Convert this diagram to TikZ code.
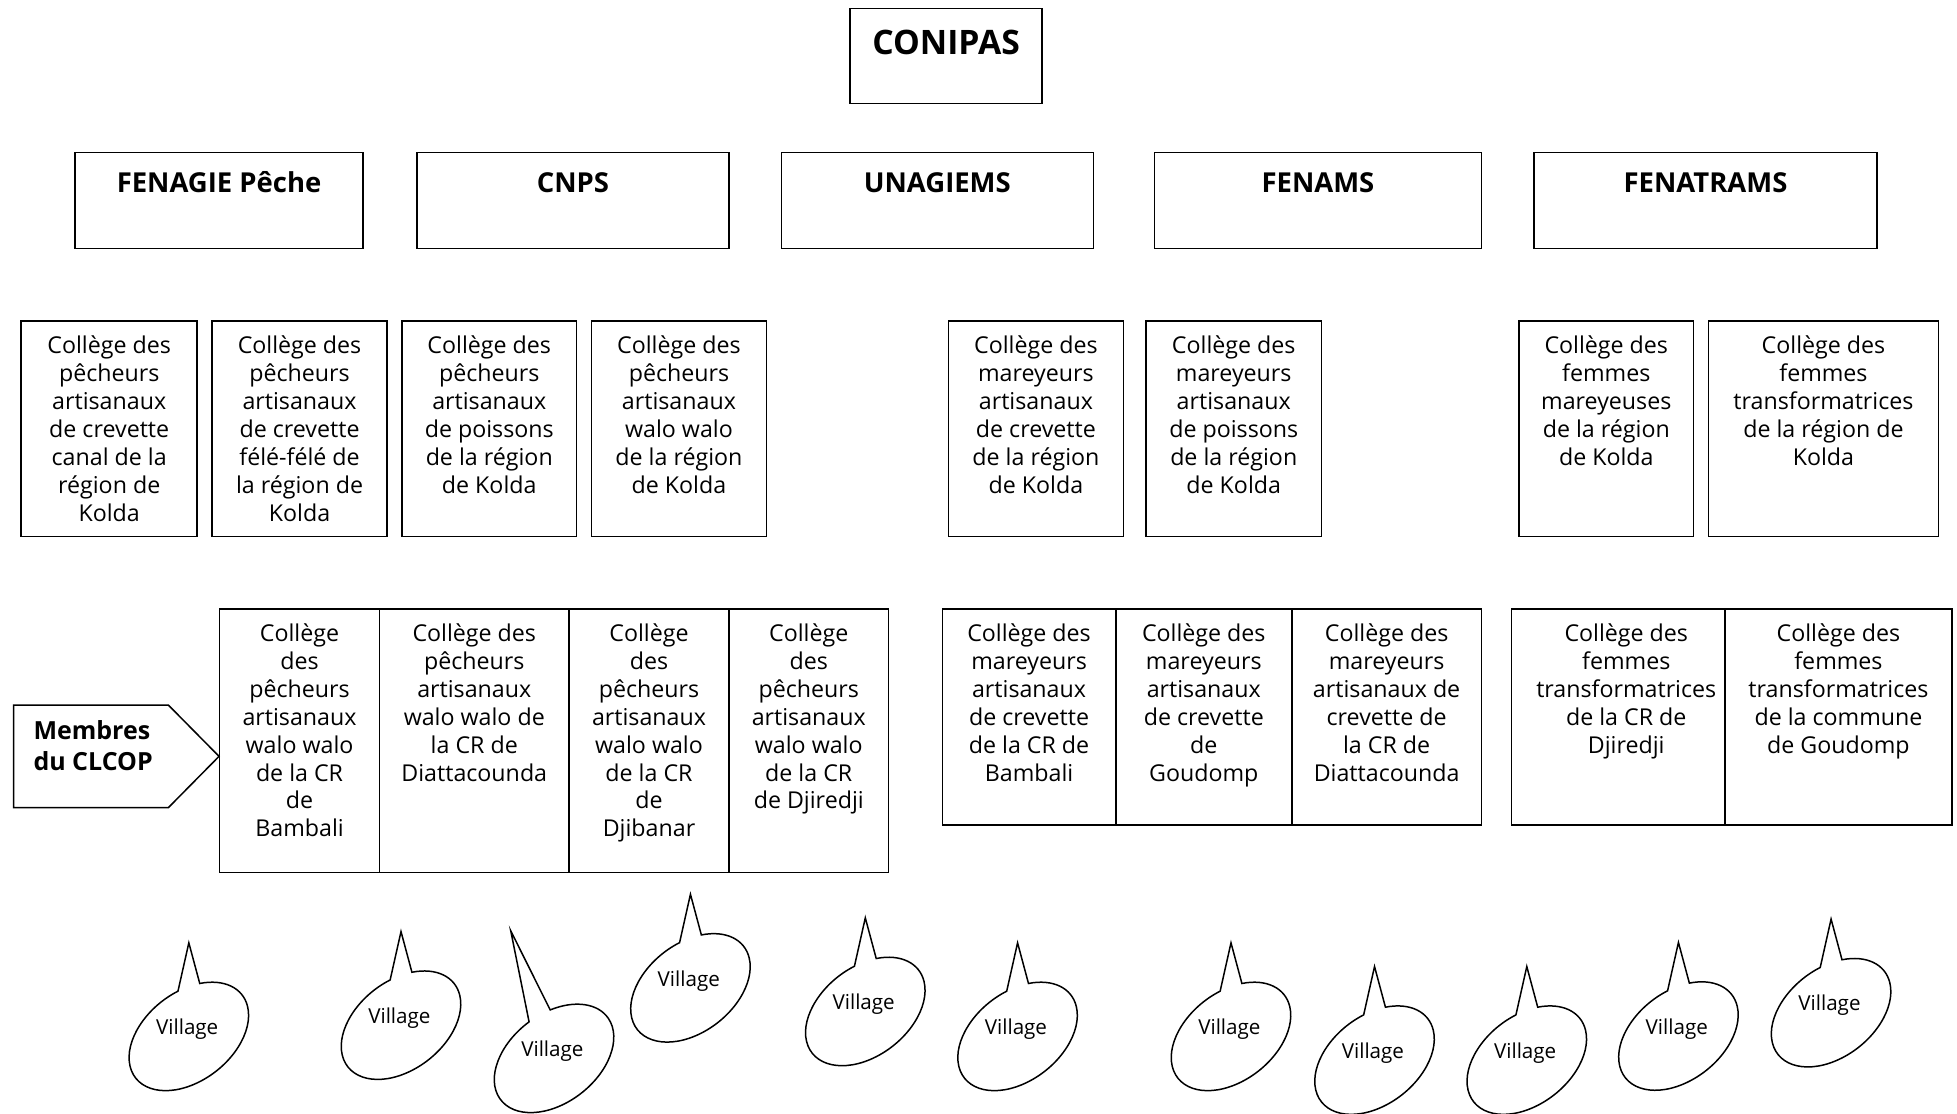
\documentclass[tikz,border=0pt]{standalone}
\usepackage{fontspec}
\setmainfont{Open Sans}
\newcommand\fl{\rule{0pt}{17pt}}
\newcommand\bx[5]{\node[box, minimum width={#4-#2}, minimum height={#5-#3}] (#1) at ({(#2+#4)/2},{(#3+#5)/2}) {};}
\newcommand\vill[6]{%
  \coordinate (#1tip) at (#4,#5);
  \begin{scope}[shift={(#2,#3)}, x=1pt, y=1pt, rotate=38]
    \pgfmathsetmacro\vca{#6+10.5}\pgfmathsetmacro\vcb{#6-10.5+360}
    \draw[callout] (\vca:54.1 and 35.4) arc[start angle=\vca, end angle=\vcb, x radius=54.1, y radius=35.4] -- (#1tip) -- cycle;
  \end{scope}
  \node[vtxt] (#1) at (#2-1.3,#3-1.5) {Village};
}
\tikzset{
  box/.style={draw, line width=1.2pt, inner sep=0pt},
  txt/.style={font=\fontsize{18.6}{22.35}\selectfont, align=center, inner sep=0pt, anchor=north},
  head/.style={font=\bfseries\fontsize{22}{26}\selectfont, inner sep=0pt, anchor=base},
  top/.style={font=\bfseries\fontsize{27}{32}\selectfont, inner sep=0pt, anchor=base},
  mtxt/.style={font=\bfseries\fontsize{20}{25}\selectfont, align=left, inner sep=0pt, anchor=north west},
  callout/.style={draw, line width=1.2pt, fill=white, line join=miter},
  vtxt/.style={font=\fontsize{16.5}{20}\selectfont, inner sep=0pt, anchor=base},
}
\begin{document}
\begin{tikzpicture}[x=1pt,y=-1pt]
\useasboundingbox[fill=white] (0,0) rectangle (1568,892);
% top
\bx{bconipas}{681}{7}{835}{83}
\node[top] (conipas) at (758,43.6) {CONIPAS};
% row 2
\bx{bfenagie}{60}{122}{291}{199}
\bx{bcnps}{334}{122}{584}{199}
\bx{bunagiems}{626}{122}{876}{199}
\bx{bfenams}{925}{122}{1187}{199}
\bx{bfenatrams}{1229}{122}{1504}{199}
\node[head] (fenagie) at (175.5,154) {FENAGIE Pêche};
\node[head] (cnps) at (459,154) {CNPS};
\node[head] (unagiems) at (751,154) {UNAGIEMS};
\node[head] (fenams) at (1056,154) {FENAMS};
\node[head] (fenatrams) at (1366.5,154) {FENATRAMS};
% row 3
\bx{b31}{17}{257}{158}{430}
\bx{b32}{170}{257}{310}{430}
\bx{b33}{322}{257}{462}{430}
\bx{b34}{474}{257}{614}{430}
\bx{b35}{760}{257}{900}{430}
\bx{b36}{918}{257}{1059}{430}
\bx{b37}{1217}{257}{1357}{430}
\bx{b38}{1369}{257}{1553}{430}
\node[txt] (t31) at (87.5,266.3) {\fl Collège des\\pêcheurs\\artisanaux\\de crevette\\canal de la\\région de\\Kolda};
\node[txt] (t32) at (240,266.3) {\fl Collège des\\pêcheurs\\artisanaux\\de crevette\\félé-félé de\\la région de\\Kolda};
\node[txt] (t33) at (392,266.3) {\fl Collège des\\pêcheurs\\artisanaux\\de poissons\\de la région\\de Kolda};
\node[txt] (t34) at (544,266.3) {\fl Collège des\\pêcheurs\\artisanaux\\walo walo\\de la région\\de Kolda};
\node[txt] (t35) at (830,266.3) {\fl Collège des\\mareyeurs\\artisanaux\\de crevette\\de la région\\de Kolda};
\node[txt] (t36) at (988.5,266.3) {\fl Collège des\\mareyeurs\\artisanaux\\de poissons\\de la région\\de Kolda};
\node[txt] (t37) at (1287,266.3) {\fl Collège des\\femmes\\mareyeuses\\de la région\\de Kolda};
\node[txt] (t38) at (1461,266.3) {\fl Collège des\\femmes\\transformatrices\\de la région de\\Kolda};
% membres
\draw[line width=1.2pt] (11,565) -- (135,565) -- (175.5,606) -- (135,647) -- (11,647) -- cycle;
\node[mtxt] (membres) at (26.7,575.3) {\fl Membres\\du CLCOP};
% row 4
\bx{b41}{176}{488}{304}{699}
\bx{b42}{304}{488}{456}{699}
\bx{b43}{456}{488}{584}{699}
\bx{b44}{584}{488}{712}{699}
\bx{b45}{755}{488}{894}{661}
\bx{b46}{894}{488}{1035}{661}
\bx{b47}{1035}{488}{1187}{661}
\bx{b48}{1211}{488}{1382}{661}
\bx{b49}{1382}{488}{1564}{661}
\node[txt] (t41) at (240,496.8) {\fl Collège\\des\\pêcheurs\\artisanaux\\walo walo\\de la CR\\de\\Bambali};
\node[txt] (t42) at (380,496.8) {\fl Collège des\\pêcheurs\\artisanaux\\walo walo de\\la CR de\\Diattacounda};
\node[txt] (t43) at (520,496.8) {\fl Collège\\des\\pêcheurs\\artisanaux\\walo walo\\de la CR\\de\\Djibanar};
\node[txt] (t44) at (648,496.8) {\fl Collège\\des\\pêcheurs\\artisanaux\\walo walo\\de la CR\\de Djiredji};
\node[txt] (t45) at (824.5,496.8) {\fl Collège des\\mareyeurs\\artisanaux\\de crevette\\de la CR de\\Bambali};
\node[txt] (t46) at (964.5,496.8) {\fl Collège des\\mareyeurs\\artisanaux\\de crevette\\de\\Goudomp};
\node[txt] (t47) at (1111,496.8) {\fl Collège des\\mareyeurs\\artisanaux de\\crevette de\\la CR de\\Diattacounda};
\node[txt] (t48) at (1303,496.8) {\fl Collège des\\femmes\\transformatrices\\de la CR de\\Djiredji};
\node[txt] (t49) at (1473,496.8) {\fl Collège des\\femmes\\transformatrices\\de la commune\\de Goudomp};
% villages
\vill{v1}{151.3}{830.4}{151.3}{755.4}{62.9}
\vill{v2}{321.3}{821.4}{321.3}{746.4}{62.9}
\vill{v3}{443.9}{848}{409.2}{745.7}{77.1}
\vill{v4}{553.2}{791.5}{553.2}{716.5}{62.9}
\vill{v5}{693.3}{810.4}{693.3}{735.4}{62.9}
\vill{v6}{815.3}{830.4}{815.3}{755.4}{62.9}
\vill{v7}{986.3}{830.4}{986.3}{755.4}{62.9}
\vill{v8}{1101.3}{849.4}{1101.3}{774.4}{62.9}
\vill{v9}{1223.3}{849.4}{1223.3}{774.4}{62.9}
\vill{v10}{1344.8}{830.1}{1344.8}{755.1}{62.9}
\vill{v11}{1467.1}{811.4}{1467.1}{736.4}{62.9}
\end{tikzpicture}
\end{document}
